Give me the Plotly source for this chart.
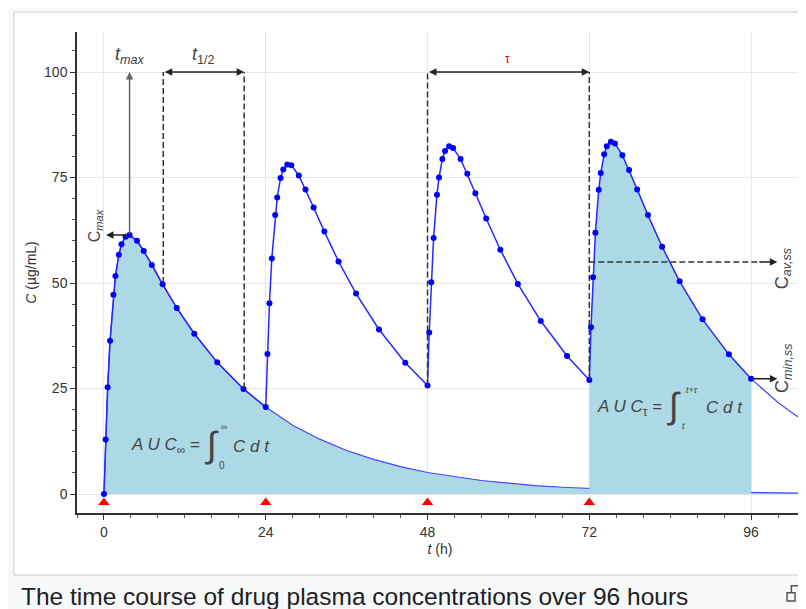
import plotly.graph_objects as go

# dosing schedule (h) and sampling times relative to each dose (h)
dose_times = [0, 24, 48, 72]
rel_times = [0, 0.25, 0.55, 0.9, 1.4, 1.7, 2.2, 2.6, 3.2, 3.8, 4.9, 5.9, 7.1, 8.7, 10.8, 13.4, 16.8, 20.7]

# plasma concentrations (ug/mL), one list per dosing interval
dose1_conc = [0, 12.9, 25.3, 36.3, 47.2, 51.7, 56.7, 59.2, 61.0, 61.4, 60.0, 57.6, 54.3, 49.7, 44.1, 38.0, 31.2, 24.9]
dose2_conc = [20.6, 33.2, 45.2, 55.8, 66.1, 70.3, 74.9, 76.9, 78.1, 77.9, 75.5, 72.2, 67.9, 62.2, 55.1, 47.5, 39.0, 31.1]
dose3_conc = [25.7, 38.3, 50.2, 60.7, 70.9, 75.0, 79.4, 81.3, 82.4, 82.0, 79.4, 75.9, 71.3, 65.3, 57.9, 49.8, 41.0, 32.7]
dose4_conc = [27.0, 39.5, 51.4, 61.9, 72.1, 76.1, 80.5, 82.4, 83.5, 83.1, 80.3, 76.8, 72.2, 66.1, 58.6, 50.4, 41.4, 33.1]
last_time, last_conc = 96, 27.3

# single dose decline after 24 h (no samples)
single_tail_t = [24, 28, 32, 36, 40, 44, 48, 52, 56, 60, 64, 68, 72, 76, 80, 84, 88, 92, 96, 100, 104]
single_tail_c = [20.6, 16.3, 13.0, 10.3, 8.2, 6.5, 5.1, 4.1, 3.2, 2.6, 2.0, 1.6, 1.3, 1.0, 0.8, 0.6, 0.5, 0.4, 0.3, 0.25, 0.2]

# steady state decline after last interval
ss_tail_t = [96, 98, 100, 102, 104]
ss_tail_c = [27.3, 24.4, 21.7, 19.3, 17.2]

# marked quantities
t_max, c_max = 3.8, 61.4
half_t = [8.8, 20.8]
half_c = [50, 25]
tau_c = [25.7, 27.0]
c_av_ss = 55
c_min_ss = 27.3
x_ticks = [0, 24, 48, 72, 96]
y_ticks = [0, 25, 50, 75, 100]

all_doses = [dose1_conc, dose2_conc, dose3_conc, dose4_conc]
multi_t, multi_c = [], []
for d, conc in zip(dose_times, all_doses):
    multi_t += [d + r for r in rel_times]
    multi_c += conc
multi_t.append(last_time)
multi_c.append(last_conc)

FONT = "Liberation Sans, Arial, sans-serif"
FILL = "#add8e6"

fig = go.Figure()

# shaded AUC areas
fig.add_trace(go.Scatter(
    x=list(rel_times) + single_tail_t,
    y=dose1_conc + single_tail_c,
    fill="tozeroy", fillcolor=FILL, mode="lines",
    line=dict(width=1.2, color="rgb(70,70,255)"), hoverinfo="skip"))
fig.add_trace(go.Scatter(
    x=[72 + r for r in rel_times] + [last_time],
    y=dose4_conc + [last_conc],
    fill="tozeroy", fillcolor=FILL, mode="none", hoverinfo="skip"))
fig.add_trace(go.Scatter(
    x=ss_tail_t, y=ss_tail_c, mode="lines",
    line=dict(width=1.2, color="rgb(70,70,255)"), hoverinfo="skip"))

# measured concentrations
fig.add_trace(go.Scatter(
    x=multi_t, y=multi_c, mode="lines+markers",
    line=dict(width=1.5, color="rgb(40,40,255)"),
    marker=dict(size=6, color="#0000ff")))

# dosing markers
fig.add_trace(go.Scatter(
    x=dose_times, y=[-2] * len(dose_times), mode="markers",
    marker=dict(symbol="triangle-up", size=10, color="#ff0000")))

shapes = []
dash = "6px,3px"
# plot frame
shapes.append(dict(type="rect", xref="paper", yref="paper", x0=0, x1=1, y0=0, y1=1,
                   line=dict(color="#d8d8d8", width=1), layer="below"))
# thumbnail frame
shapes.append(dict(type="rect", xref="paper", yref="paper", x0=-0.0868, x1=1.02,
                   y0=-0.1289, y1=1.0416, fillcolor="white",
                   line=dict(color="#c8ccd1", width=1), layer="below"))
# t 1/2 guides
for tx, cy in zip(half_t, half_c):
    shapes.append(dict(type="line", x0=tx, x1=tx, y0=cy, y1=100,
                       line=dict(color="#333", width=1.5, dash=dash)))
# tau guides
for tx, cy in zip([48, 72], tau_c):
    shapes.append(dict(type="line", x0=tx, x1=tx, y0=cy, y1=100,
                       line=dict(color="#333", width=1.5, dash=dash)))
# C av,ss guide
shapes.append(dict(type="line", x0=72, x1=97.5, y0=c_av_ss, y1=c_av_ss,
                   line=dict(color="#333", width=1.5, dash=dash)))
# magnify icon
shapes.append(dict(type="rect", xref="paper", yref="paper", x0=0.978, x1=0.989,
                   y0=-0.183, y1=-0.166, line=dict(color="#555", width=1.5)))
shapes.append(dict(type="path", xref="paper", yref="paper",
                   path="M 0.984 -0.166 L 0.984 -0.151 L 1.01 -0.151",
                   line=dict(color="#555", width=1.5)))

def arrow(x, y, ax, ay, color="#222", both=False):
    a = dict(x=x, y=y, ax=ax, ay=ay, xref="x", yref="y", axref="x", ayref="y",
             text="", showarrow=True, arrowhead=2, arrowsize=1, arrowwidth=1.5,
             arrowcolor=color, standoff=0, startstandoff=0)
    if both:
        a.update(arrowside="end+start", startarrowhead=2, startarrowsize=1)
    return a

def label(x, y, text, size=16, color="#444", angle=0, xanchor="center", yanchor="middle"):
    return dict(x=x, y=y, xref="x", yref="y", text=text, showarrow=False,
                textangle=angle, xanchor=xanchor, yanchor=yanchor,
                font=dict(family=FONT, size=size, color=color))

annotations = [
    arrow(t_max, 100, t_max, c_max, color="#666"),
    arrow(0.3, c_max, t_max, c_max),
    arrow(half_t[1], 100, half_t[0], 100, both=True),
    arrow(72, 100, 48, 100, both=True),
    arrow(99.9, c_av_ss, 97, c_av_ss),
    arrow(99.9, c_min_ss, 96, c_min_ss),
    label(t_max, 104, "<i>t</i><sub><i>max</i></sub>", size=18),
    label(14.8, 104, "<i>t</i><sub>1/2</sub>", size=18),
    label(59.9, 103.2, "τ", size=12, color="#ff0000"),
    label(-1.3, 63.5, "C<sub><i>max</i></sub>", size=16, angle=-90),
    label(100.8, 53.6, "C<sub><i>av,ss</i></sub>", size=18, angle=-90),
    label(100.8, 30.0, "C<sub><i>min,ss</i></sub>", size=18, angle=-90),
    # AUC infinity
    label(14.6, 11.3, "<i>A U C</i><sub>∞</sub> =", size=17, xanchor="right"),
    label(16.1, 11.8, "∫", size=36),
    label(17.8, 15.8, "∞", size=9),
    label(17.5, 6.8, "0", size=10),
    label(18.9, 11.3, "<i>C d t</i>", size=17, xanchor="left"),
    # AUC tau
    label(83.1, 20.4, "<i>A U C</i><sub>τ</sub> =", size=17, xanchor="right"),
    label(84.5, 20.9, "∫", size=36),
    label(87.3, 24.6, "<i>t+τ</i>", size=9),
    label(85.9, 16.2, "<i>t</i>", size=9),
    label(89.0, 20.4, "<i>C d t</i>", size=17, xanchor="left"),
    # caption
    dict(x=-0.080, y=-0.1746, xref="paper", yref="paper", showarrow=False,
         text="The time course of drug plasma concentrations over 96 hours",
         xanchor="left", yanchor="middle",
         font=dict(family=FONT, size=24.5, color="#202122")),
]

# the page adds an 8px body margin, so the margins are shifted by 8px
fig.update_layout(
    width=806, height=609,
    margin=dict(l=69, r=11, t=24, b=104, autoexpand=False),
    paper_bgcolor="#f8f9fa", plot_bgcolor="white",
    showlegend=False,
    font=dict(family=FONT, size=14, color="#333"),
    shapes=shapes, annotations=annotations,
)
fig.update_xaxes(
    range=[-4, 103.7], tickvals=x_ticks, showgrid=True, gridcolor="#e6e6e6",
    zeroline=False, showline=True, linecolor="#333", linewidth=1.5,
    ticks="outside", ticklen=5, tickcolor="#333", automargin=False,
    minor=dict(dtick=4, tick0=0, ticks="outside", ticklen=3, tickcolor="#555", showgrid=False),
    title=dict(text="<i>t</i> (h)", font=dict(size=14, color="#333"), standoff=6),
)
fig.update_yaxes(
    range=[-4.5, 109.5], tickvals=y_ticks, showgrid=True, gridcolor="#e6e6e6",
    zeroline=False, showline=True, linecolor="#333", linewidth=1.5,
    ticks="outside", ticklen=5, tickcolor="#333", automargin=False,
    minor=dict(dtick=5, tick0=0, ticks="outside", ticklen=3, tickcolor="#555", showgrid=False),
    title=dict(text="<i>C</i> (µg/mL)", font=dict(size=14, color="#333"), standoff=4),
)

fig.write_html("out.html")
